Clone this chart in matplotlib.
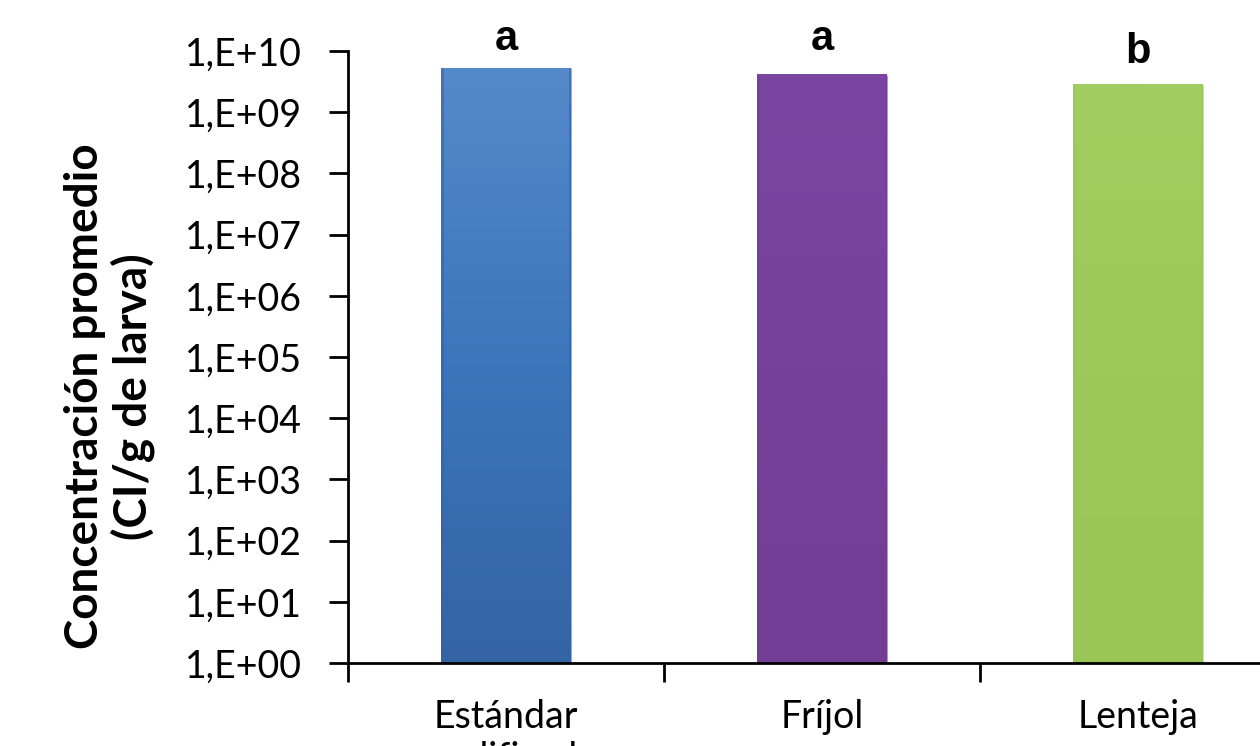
import numpy as np
import matplotlib
matplotlib.use("Agg")
import matplotlib.pyplot as plt
from matplotlib.colors import LinearSegmentedColormap
from matplotlib.ticker import FixedLocator, NullLocator, FuncFormatter

categories = ["Estándar\nmodificada", "Fríjol", "Lenteja"]
values = [5.2e9, 4.1e9, 2.8e9]
letters = ["a", "a", "b"]
letter_y = [1.02e10, 1.02e10, 6.3e9]
ylabel = "Concentración promedio\n(CI/g de larva)"

top_colors = ["#5589CA", "#7B46A1", "#A2CD60"]
mid_colors = ["#3D75BC", "#76419A", "#9DC95A"]
bot_colors = ["#3464A4", "#723E95", "#98C556"]

plt.rcParams['font.family'] = ['Lato', 'DejaVu Sans']

fig = plt.figure(figsize=(12.6, 7.46), dpi=100)
ax = fig.add_axes([348/1260, 83/746, 948/1260, 612/746])

x = np.arange(len(categories))
width = 0.41
bars = ax.bar(x, values, width=width, bottom=1, color=mid_colors,
              edgecolor="none", zorder=2)
ax.set_yscale("log")
ax.set_xlim(-0.5, len(categories) - 0.5)
ax.set_ylim(1, 1e10)

# vertical gradient fill for each bar (placed in axes coordinates via the axis scale)
to_axes = ax.transScale + ax.transLimits
for b, c1, c2, c3 in zip(bars, top_colors, mid_colors, bot_colors):
    cmap = LinearSegmentedColormap.from_list("g", [c3, c2, c1])
    grad = np.linspace(0, 1, 256).reshape(-1, 1)
    (ax0, ay0) = to_axes.transform((b.get_x(), b.get_y()))
    (ax1, ay1) = to_axes.transform((b.get_x() + b.get_width(), b.get_y() + b.get_height()))
    im = ax.imshow(grad, cmap=cmap, aspect="auto", origin="lower",
                   extent=[ax0, ax1, ay0, ay1], transform=ax.transAxes,
                   zorder=2.5, interpolation="bilinear")
    # darker side edges for a bevel look
    ax.plot([b.get_x() + 0.004] * 2, [b.get_y(), b.get_y() + b.get_height()],
            color=c3, lw=2, alpha=0.6, zorder=2.6, solid_capstyle="butt")
    ax.plot([b.get_x() + b.get_width() - 0.004] * 2, [b.get_y(), b.get_y() + b.get_height()],
            color=c3, lw=2, alpha=0.6, zorder=2.6, solid_capstyle="butt")
ax.set_xlim(-0.5, len(categories) - 0.5)
ax.set_ylim(1, 1e10)
ax.set_aspect("auto")

# y axis ticks
ax.yaxis.set_major_locator(FixedLocator([10.0**k for k in range(11)]))
ax.yaxis.set_minor_locator(NullLocator())
ax.yaxis.set_major_formatter(FuncFormatter(lambda v, p: "1,E+%02d" % int(round(np.log10(v)))))
ax.tick_params(axis="y", which="major", direction="out", length=14, width=2,
               labelsize=27, pad=19, color="black")

# x axis: boundary ticks, labels at centers
ax.set_xticks(np.arange(-0.5, len(categories), 1.0))
ax.set_xticklabels([])
ax.set_xticks(x, minor=True)
ax.set_xticklabels(categories, minor=True, fontsize=27, linespacing=1.2)
ax.tick_params(axis="x", which="major", direction="out", length=14, width=2)
ax.tick_params(axis="x", which="minor", length=0, pad=26)

for s in ["top", "right"]:
    ax.spines[s].set_visible(False)
for s in ["left", "bottom"]:
    ax.spines[s].set_linewidth(2)
    ax.spines[s].set_zorder(3)

ax.set_ylabel(ylabel, fontsize=33, fontweight="bold", linespacing=1.1)
ax.yaxis.set_label_coords(-0.204, 0.436)

for xi, lt, ly in zip(x, letters, letter_y):
    ax.text(xi, ly, lt, ha="center", va="baseline", fontsize=30,
            fontweight="bold", family=["Liberation Sans Narrow", "Liberation Sans", "DejaVu Sans"],
            clip_on=False)

fig.savefig("out.png", dpi=100)
